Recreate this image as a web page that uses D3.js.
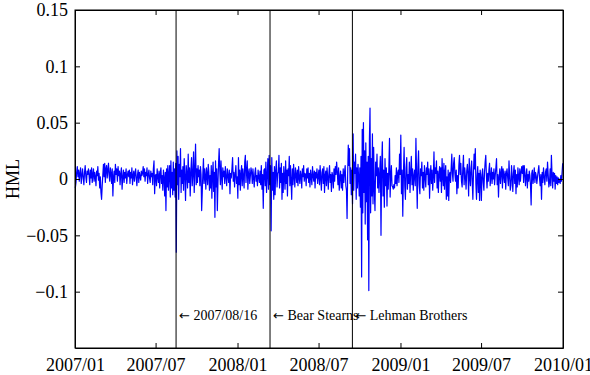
<!DOCTYPE html>
<html>
<head>
<meta charset="utf-8">
<script src="https://cdn.jsdelivr.net/npm/d3@7"></script>
<style>
  body { margin: 0; background: #fff; }
  svg { display: block; }
  text { font-family: "Liberation Serif", "Times New Roman", serif; fill: #000; }
</style>
</head>
<body>
<svg id="chart" width="590" height="375"></svg>
<script>
// daily HML returns in percent, one row per month
const hml2007 = [
  [-0.8, -0.3, 0.6, 1.1, 0.2, 0.8, -0.2, 0.5, 1.0, -0.4, 0.3, 0.9, 0.1, -0.5, 0.6, 1.2, 0.2, -0.3, 0.7, 0.4, 0.9],
  [0.3, -0.5, 0.8, 0.1, 1.0, -0.3, 0.4, 0.9, -0.2, 0.6, 0.2, -0.6, 0.7, 0.3, 1.1, -0.1, 0.5, -0.8, 0.2, -1.2],
  [-1.8, -0.6, 0.4, 1.3, 0.2, 1.4, -0.3, 0.9, 1.2, 0.1, 0.8, 1.4, 0.3, -0.2, 1.0, 0.5, -0.4, 0.9, -1.5, 0.2, 0.7, -0.3],
  [1.3, 0.4, 0.9, -0.2, 1.1, 0.3, 0.7, -0.5, 0.5, 1.0, -0.9, 0.2, 0.8, -0.3, 0.6, 0.1, 0.9, -0.4, 0.4, 0.7],
  [0.2, 0.8, -0.4, 0.6, 0.1, 1.0, -0.5, 0.3, 0.7, -0.2, 0.5, 0.9, 0.0, -0.6, 0.4, 0.8, -0.3, 0.6, 0.2, -0.1, 0.7, 0.3],
  [0.5, 1.1, 0.2, 0.9, -0.2, 0.6, 0.3, 1.0, -0.4, 0.4, 0.8, 0.1, -0.3, 0.7, 0.2, 0.5, -0.5, 0.9, 1.6, -1.3, 0.3],
  [0.4, -0.6, 0.9, 0.2, -0.3, 0.7, -0.8, 0.5, 1.0, -0.4, 0.3, -1.0, 0.8, 0.1, -1.5, 0.6, -2.8, 0.9, -0.7, 1.2, -1.0, 0.5],
  [1.2, -1.6, 1.6, -0.8, 0.6, -1.4, 1.5, -1.0, 0.9, -1.6, 1.4, -6.5, 2.5, -0.5, 2.0, -1.8, 1.3, 0.2, 2.7, -1.2, 0.8, -0.4, 1.1],
  [-1.0, 1.8, 0.3, -1.9, 1.2, 0.5, -0.8, 2.2, -0.3, 1.0, -1.5, 0.7, 1.9, -0.6, 0.4, 2.4, -1.2, 0.9, 3.1, -0.5],
  [0.9, -0.3, 1.2, 0.2, 0.8, -0.6, 1.1, 0.4, -2.8, -1.2, 0.5, 1.8, -0.4, 0.9, 0.2, -0.9, 1.0, 0.4, -0.5, 1.3, 0.6, -1.0, 0.3],
  [-0.8, 1.2, -1.7, 0.4, 1.5, -1.1, 0.6, -3.4, 1.6, -0.7, 0.9, -2.8, -0.4, 1.4, 2.7, 0.8, -0.5, 1.6, 0.3, -0.9, 1.0, 0.2],
  [0.7, -0.4, 1.1, 0.2, -0.6, 0.9, 0.3, -0.3, 0.8, -1.3, 0.5, 0.1, 0.9, 1.9, -0.2, 0.6, -0.7, 0.4, 1.2, -0.4, 0.2]
];
const hml2008 = [
  [-1.7, 1.9, -0.5, 0.8, -1.0, 0.4, 1.2, -0.6, 0.9, 0.2, -0.8, 1.5, 2.1, -0.3, 0.7, 1.6, -0.9, 0.5, 0.9, -0.4, 0.3, 1.0],
  [0.6, -0.4, 0.9, 0.1, -0.7, 0.5, 1.0, -0.2, 0.3, -0.6, 0.8, 0.2, -0.3, 0.7, -0.5, 1.2, -0.9, 0.4, -2.6, 0.8],
  [0.9, -0.6, 1.5, -1.2, 0.4, 1.8, -0.9, 2.1, -0.5, 1.2, -4.6, 1.9, -1.0, 0.6, -1.8, 1.1, -1.4, 0.8, 1.6, -0.7, 0.5],
  [0.6, 2.1, -0.8, 1.0, -0.3, 1.4, -1.8, 0.5, -1.2, 1.1, 0.2, -0.9, 1.6, -0.4, 0.8, -1.5, 0.9, 0.3, 2.0, -0.6, 1.2, -0.2],
  [-1.8, 0.9, -0.5, 1.3, 0.2, -0.7, 1.0, 0.4, -0.3, 0.8, -0.6, 1.1, 0.1, -0.4, 0.7, 0.3, -0.8, 0.9, 0.2, 1.2, -0.2, 0.5],
  [0.4, -0.6, 0.9, 0.1, 1.0, -0.3, 0.5, -0.7, 0.8, 0.2, -0.5, 1.1, 0.3, -0.2, 0.7, -0.8, 0.6, 0.1, 0.9, -0.4, 0.3],
  [0.8, -0.5, 1.2, 0.1, -1.0, 0.6, 0.9, -0.4, 1.1, -1.2, 0.3, 0.7, -0.6, 1.0, 0.2, -0.9, 0.5, 1.2, -0.3, 0.4, -1.1, 0.6],
  [0.3, -0.8, 0.9, -0.2, 1.1, 0.4, 1.5, 0.6, -0.5, 1.0, -1.0, 0.2, 0.7, -0.8, 0.4, -1.0, 0.9, -0.3, 0.6, 1.2, -0.6],
  [-1.0, -3.5, 0.5, 3.0, 1.2, 2.7, -0.4, 1.0, -1.4, 0.8, -2.2, 4.0, -1.0, 1.5, 0.5, 2.2, -1.8, 1.0, -0.8, 1.3, 0.2, -1.5],
  [1.0, -2.5, 2.0, -8.7, 4.4, -3.0, 5.0, -1.2, 2.5, -4.0, 3.2, -2.0, 1.5, -5.4, 2.0, -9.9, 3.5, 6.3, -3.0, 1.8, -1.5, 4.0, -2.2],
  [2.8, -1.0, -2.8, 1.5, 0.3, 2.2, -0.8, 1.0, -1.2, 0.5, 2.0, -5.0, 1.2, 3.3, -1.5, 0.8, -2.5, 1.8, -0.6, 1.0],
  [-2.4, 0.5, -0.9, 1.0, 3.6, -1.6, 0.2, 1.2, -0.6, -0.7, -0.9, -0.5, -0.8, 0.3, -0.4, 1.0, -0.6, 0.5, 0.8, -0.3, 2.2, 0.4]
];
const hml2009 = [
  [3.9, -1.3, 0.8, -3.3, 0.5, 2.8, -0.6, -1.8, 1.0, 1.9, -0.9, 0.4, -0.4, 1.5, -1.2, 0.6, 2.0, -0.5, 0.9, -1.0, 0.3],
  [0.8, -0.6, 3.6, 0.4, -2.6, 1.1, 2.5, -0.5, -1.3, 0.9, 0.3, 1.5, -0.8, 0.6, -1.0, 1.2, 0.2, -0.7, 1.0],
  [0.4, 1.5, -0.5, 0.9, -1.7, 0.3, 1.2, -0.4, 0.8, -1.0, 0.2, 2.4, -0.3, 1.0, 0.5, 1.6, -0.8, 0.7, -1.2, 0.4, 1.1, -0.2],
  [1.0, -1.2, 1.8, 0.3, -0.6, 1.4, -0.9, 0.6, 1.2, -1.8, 0.2, -1.5, 0.8, -1.9, 0.4, 0.6, -0.3, 1.0, 2.2, 0.5, -0.2, 1.4],
  [1.9, 0.5, -0.2, 0.8, -1.3, 0.3, -0.8, 1.2, 2.1, 0.4, 1.4, -0.2, -0.7, 0.9, 2.1, -0.5, 1.0, 0.2, -0.9, 0.7, 1.3],
  [0.4, -1.5, 1.8, 0.2, -0.6, 1.0, 1.6, -0.4, -1.8, 0.6, 2.2, 0.9, 2.7, -0.5, -1.8, 0.3, 1.1, -1.2, 0.5, -1.9, 0.8, 0.1],
  [-1.9, 0.4, 0.9, -0.3, -1.0, 0.6, 1.5, 2.1, 0.3, -0.8, 0.5, -0.2, 0.8, 1.4, -0.6, 0.2, 1.0, -0.4, 0.6, 0.0, 0.9, -0.5],
  [0.3, 1.0, 1.8, -0.5, 0.4, -1.6, 0.2, 0.9, -0.4, 0.6, 1.1, -0.8, 0.9, 0.3, -0.3, 0.7, -0.9, 0.5, 0.9, 0.1, -0.6],
  [1.6, 0.3, -1.0, -0.6, 1.2, 0.2, -1.1, 0.5, 1.2, -0.4, 0.8, -1.3, 0.4, -0.7, 1.0, 0.2, -0.5, 0.9, -0.2, 0.6, 1.1],
  [0.5, 1.2, -0.3, 1.2, 0.6, -0.6, 0.2, 0.9, -0.8, 0.4, -0.2, 0.7, 0.3, -0.6, -2.3, 0.5, 0.8, -0.4, 0.2, 1.0, -0.3, 0.6],
  [0.3, -0.4, 0.2, 0.7, 1.2, 0.1, -0.6, 0.4, -1.8, 0.6, -0.3, 1.0, 0.2, -0.5, 0.6, 0.9, -0.2, 1.5, 0.4, -0.7],
  [-0.3, 0.9, -0.6, 2.1, 0.4, -0.8, 0.6, -0.2, 0.5, -0.9, 0.3, -0.4, 0.2, -0.5, 0.1, -0.3, 0.0, -0.4, 0.3, -0.2, 0.5, 1.4]
];
const years = [2007, 2008, 2009];

const eventDates = ['2007-08-16', '2008-03-14', '2008-09-15'];
const eventLabels = ['2007/08/16', 'Bear Stearns', 'Lehman Brothers'];

const xTicks = ['2007-01-01', '2007-07-01', '2008-01-01', '2008-07-01', '2009-01-01', '2009-07-01', '2010-01-01'];
const yTicks = [-0.1, -0.05, 0, 0.05, 0.1, 0.15];

const margin = { top: 10, right: 27, bottom: 27, left: 75 };
const width = 590 - margin.left - margin.right;
const height = 375 - margin.top - margin.bottom;
const parse = d3.utcParse('%Y-%m-%d');
const serif = '"Liberation Serif", "Times New Roman", Times, serif';

// spread each month's values over that month
const series = [];
[hml2007, hml2008, hml2009].forEach((yearRows, yi) => {
  yearRows.forEach((row, m) => {
    const start = Date.UTC(years[yi], m, 1);
    const end = Date.UTC(years[yi], m + 1, 1);
    row.forEach((v, i) => {
      series.push({ date: new Date(start + (i + 0.5) / row.length * (end - start)), value: v / 100 });
    });
  });
});

const svg = d3.select('#chart');
const g = svg.append('g').attr('transform', 'translate(' + margin.left + ',' + margin.top + ')');

const x = d3.scaleUtc().domain([parse('2007-01-01'), parse('2010-01-01')]).range([0, width]);
const y = d3.scaleLinear().domain([-0.15, 0.15]).range([height, 0]);

// data line
g.append('path')
  .datum(series)
  .attr('fill', 'none')
  .attr('stroke', '#0000ff')
  .attr('stroke-width', 1.2)
  .attr('stroke-linejoin', 'round')
  .attr('d', d3.line().x(d => x(d.date)).y(d => y(d.value)));

// event markers
eventDates.forEach((d, i) => {
  const ex = x(parse(d));
  g.append('line')
    .attr('x1', ex).attr('x2', ex).attr('y1', 0).attr('y2', height)
    .attr('stroke', '#000').attr('stroke-width', 1);
  const t = g.append('text')
    .attr('x', ex + 3).attr('y', y(-0.1255))
    .style('font-family', serif)
    .style('font-size', '14px');
  t.append('tspan')
    .style('font-family', '"DejaVu Sans", sans-serif')
    .style('font-size', '13px')
    .text('\u2190');
  t.append('tspan').text(' ' + eventLabels[i]);
});

// axes (MATLAB style: inward ticks, boxed)
const fmtY = d3.format('');
const fmtX = d3.utcFormat('%Y/%m');
const tickDates = xTicks.map(parse);

g.append('g')
  .attr('transform', 'translate(0,' + height + ')')
  .call(d3.axisBottom(x).tickValues(tickDates).tickFormat(fmtX).tickSizeInner(-5).tickSizeOuter(0).tickPadding(10));
g.append('g')
  .call(d3.axisTop(x).tickValues(tickDates).tickFormat('').tickSizeInner(-5).tickSizeOuter(0));
g.append('g')
  .call(d3.axisLeft(y).tickValues(yTicks).tickFormat(fmtY).tickSizeInner(-5).tickSizeOuter(0).tickPadding(7));
g.append('g')
  .attr('transform', 'translate(' + width + ',0)')
  .call(d3.axisRight(y).tickValues(yTicks).tickFormat('').tickSizeInner(-5).tickSizeOuter(0));

g.selectAll('g').attr('font-family', null).attr('font-size', null);
g.selectAll('.domain').attr('stroke', '#000');
g.selectAll('.tick line').attr('stroke', '#000');
g.selectAll('.tick text')
  .style('font-family', serif)
  .style('font-size', '18px')
  .attr('fill', '#000');

g.append('rect')
  .attr('width', width).attr('height', height)
  .attr('fill', 'none').attr('stroke', '#000').attr('stroke-width', 1);

svg.append('text')
  .attr('transform', 'translate(19,' + (margin.top + height / 2) + ') rotate(-90)')
  .attr('text-anchor', 'middle')
  .style('font-family', serif)
  .style('font-size', '18px')
  .text('HML');
</script>
</body>
</html>
